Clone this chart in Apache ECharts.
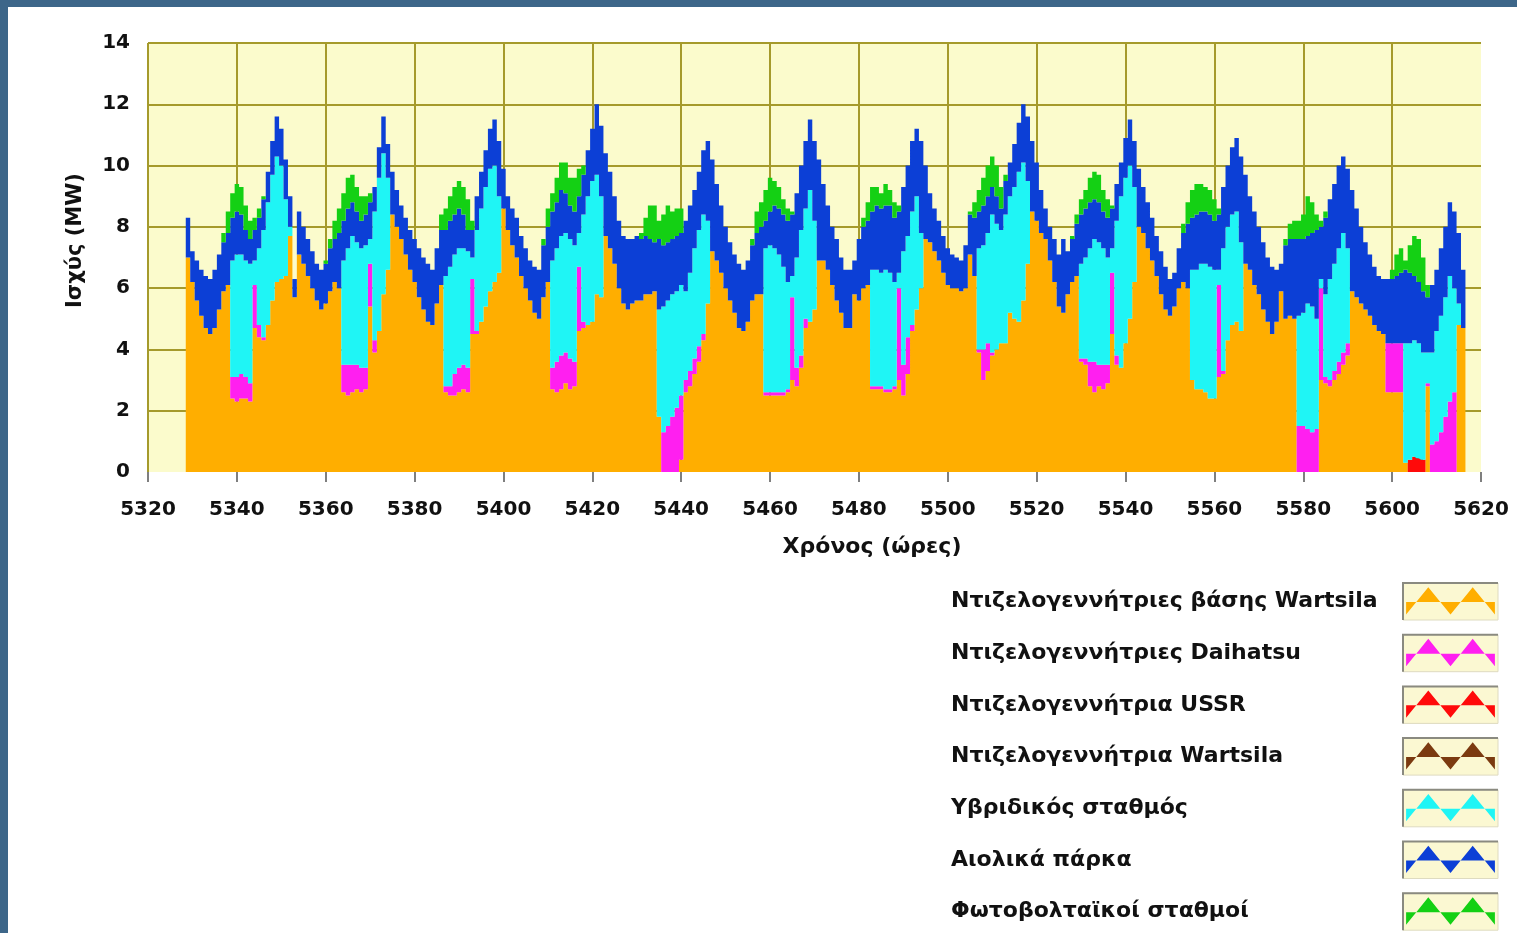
<!DOCTYPE html>
<html>
<head>
<meta charset="utf-8">
<script src="https://cdn.jsdelivr.net/npm/echarts@6/dist/echarts.min.js"></script>
<style>
  html, body { margin: 0; padding: 0; width: 1517px; height: 933px; overflow: hidden; background: #3d6689; }
  #chart { position: absolute; left: 8px; top: 7px; width: 1509px; height: 926px; background: #ffffff; }
</style>
</head>
<body>
<div id="chart"></div>
<script>
// Hourly dispatch of the island power system, hours 5329 .. 5616 (MW per unit group)
const firstHour = 5329;

const baseWartsila = [
  7.0, 6.2, 5.6, 5.1, 4.7, 4.5, 4.7, 5.3, 5.9, 6.1,
  2.4, 2.3, 2.4, 2.4, 2.3, 4.7, 4.4, 4.3, 4.8, 5.6,
  6.2, 6.3, 6.4, 7.7, 5.7, 7.1, 6.8, 6.4, 6.0, 5.6,
  5.3, 5.5, 5.9, 6.2, 6.0, 2.6, 2.5, 2.6, 2.7, 2.6,
  2.7, 5.4, 3.9, 4.6, 5.8, 6.6, 8.4, 8.0, 7.6, 7.1,
  6.6, 6.2, 5.7, 5.3, 4.9, 4.8, 5.5, 6.1, 2.6, 2.5,
  2.5, 2.6, 2.7, 2.6, 4.5, 4.5, 4.9, 5.4, 5.9, 6.2,
  6.5, 8.6, 7.9, 7.4, 7.0, 6.4, 6.0, 5.6, 5.2, 5.0,
  5.7, 6.2, 2.7, 2.6, 2.7, 2.9, 2.7, 2.8, 4.6, 4.7,
  4.8, 4.9, 5.8, 5.7, 7.7, 7.3, 6.8, 6.0, 5.5, 5.3,
  5.5, 5.6, 5.6, 5.8, 5.8, 5.9, 1.8, 0, 0, 0,
  0, 0.4, 2.6, 2.8, 3.2, 3.6, 4.3, 5.5, 7.2, 6.9,
  6.5, 6.0, 5.6, 5.2, 4.7, 4.6, 4.9, 5.6, 5.8, 5.8,
  2.5, 2.5, 2.5, 2.5, 2.5, 2.6, 3.0, 2.8, 3.4, 4.7,
  4.9, 5.3, 6.9, 6.9, 6.6, 6.1, 5.6, 5.2, 4.7, 4.7,
  5.8, 5.6, 6.0, 6.1, 2.7, 2.7, 2.7, 2.6, 2.6, 2.7,
  3.0, 2.5, 3.2, 4.6, 5.3, 6.0, 7.6, 7.5, 7.2, 6.9,
  6.5, 6.1, 6.0, 6.0, 5.9, 6.0, 7.1, 6.4, 3.9, 3.0,
  3.3, 3.8, 4.0, 4.2, 4.2, 5.2, 5.0, 4.9, 5.6, 6.8,
  8.5, 8.2, 7.8, 7.6, 6.9, 6.2, 5.4, 5.2, 5.8, 6.2,
  6.4, 3.6, 3.5, 2.8, 2.6, 2.8, 2.7, 2.9, 4.5, 3.5,
  3.4, 4.2, 5.0, 6.2, 8.0, 7.8, 7.3, 6.9, 6.4, 5.8,
  5.3, 5.1, 5.4, 6.0, 6.2, 6.0, 3.0, 2.7, 2.7, 2.6,
  2.4, 2.4, 3.1, 3.2, 4.3, 4.8, 4.9, 4.6, 6.8, 6.6,
  6.1, 5.8, 5.3, 4.9, 4.5, 4.9, 5.9, 5.0, 5.1, 5.0,
  0, 0, 0, 0, 0, 3.0, 2.9, 2.8, 3.0, 3.2,
  3.5, 3.8, 5.9, 5.7, 5.5, 5.3, 5.1, 4.8, 4.6, 4.5,
  2.6, 2.6, 2.6, 2.6, 0.3, 0, 0, 0, 0, 2.8,
  0, 0, 0, 0, 0, 0, 4.8, 4.7
];

const daihatsu = [
  0, 0, 0, 0, 0, 0, 0, 0, 0, 0,
  0.7, 0.8, 0.8, 0.7, 0.6, 1.4, 0.4, 0.1, 0, 0,
  0, 0, 0, 0, 0, 0, 0, 0, 0, 0,
  0, 0, 0, 0, 0, 0.9, 1.0, 0.9, 0.8, 0.8,
  0.7, 1.4, 0.4, 0, 0, 0, 0, 0, 0, 0,
  0, 0, 0, 0, 0, 0, 0, 0, 0.2, 0.3,
  0.7, 0.8, 0.8, 0.8, 1.8, 0.1, 0, 0, 0, 0,
  0, 0, 0, 0, 0, 0, 0, 0, 0, 0,
  0, 0, 0.7, 1.0, 1.1, 1.0, 1.0, 0.8, 2.1, 0.2,
  0, 0, 0, 0, 0, 0, 0, 0, 0, 0,
  0, 0, 0, 0, 0, 0, 0, 1.3, 1.5, 1.8,
  2.1, 2.1, 0.4, 0.5, 0.5, 0.5, 0.2, 0, 0, 0,
  0, 0, 0, 0, 0, 0, 0, 0, 0, 0,
  0.1, 0.1, 0.1, 0.1, 0.1, 0.1, 2.7, 0.6, 0.4, 0.3,
  0, 0, 0, 0, 0, 0, 0, 0, 0, 0,
  0, 0, 0, 0, 0.1, 0.1, 0.1, 0.1, 0.1, 0.1,
  3.0, 1.0, 1.2, 0.2, 0, 0, 0, 0, 0, 0,
  0, 0, 0, 0, 0, 0, 0, 0, 0.1, 1.0,
  0.9, 0.1, 0, 0, 0, 0, 0, 0, 0, 0,
  0, 0, 0, 0, 0, 0, 0, 0, 0, 0,
  0, 0.1, 0.2, 0.8, 1.0, 0.7, 0.8, 0.6, 2.0, 0.3,
  0, 0, 0, 0, 0, 0, 0, 0, 0, 0,
  0, 0, 0, 0, 0, 0, 0, 0, 0, 0,
  0, 0, 3.0, 0.1, 0, 0, 0, 0, 0, 0,
  0, 0, 0, 0, 0, 0, 0, 0, 0, 0,
  1.5, 1.5, 1.4, 1.3, 1.4, 3.0, 0.2, 0.2, 0.3, 0.4,
  0.4, 0.4, 0, 0, 0, 0, 0, 0, 0, 0,
  1.6, 1.6, 1.6, 1.6, 0, 0, 0, 0, 0, 0.1,
  0.9, 1.0, 1.3, 1.8, 2.3, 2.6, 0, 0
];

// USSR unit only runs for a few hours; every other hour it is off
const ussrHours = [5604, 5605, 5606, 5607];
const ussrValues = [0.4, 0.5, 0.45, 0.4];

// Single Wartsila unit: no output in this window
const wartsilaUnitHours = [];
const wartsilaUnitValues = [];

const hybrid = [
  0, 0, 0, 0, 0, 0, 0, 0, 0, 0,
  3.8, 4.0, 3.9, 3.8, 3.9, 0.8, 2.5, 3.5, 4.0, 4.1,
  4.1, 3.7, 2.5, 0.3, 0, 0, 0, 0, 0, 0,
  0, 0, 0, 0, 0, 3.4, 3.8, 4.2, 4.0, 3.9,
  4.0, 0.8, 4.2, 5.0, 4.6, 3.0, 0, 0, 0, 0,
  0, 0, 0, 0, 0, 0, 0, 0, 3.6, 3.9,
  3.9, 3.9, 3.8, 3.8, 0.7, 3.3, 3.7, 3.9, 4.0, 3.8,
  2.5, 0, 0, 0, 0, 0, 0, 0, 0, 0,
  0, 0, 3.5, 3.7, 3.9, 3.9, 3.9, 3.8, 1.1, 3.5,
  4.2, 4.6, 3.9, 3.3, 0, 0, 0, 0, 0, 0,
  0, 0, 0, 0, 0, 0, 3.5, 4.1, 4.1, 4.0,
  3.8, 3.6, 2.9, 3.2, 3.6, 3.8, 3.9, 2.7, 0, 0,
  0, 0, 0, 0, 0, 0, 0, 0, 0, 0,
  4.7, 4.8, 4.7, 4.5, 4.1, 3.5, 0.7, 3.6, 4.1, 3.6,
  4.3, 2.9, 0, 0, 0, 0, 0, 0, 0, 0,
  0, 0, 0, 0, 3.8, 3.8, 3.7, 3.9, 3.8, 3.4,
  0.5, 3.7, 3.3, 3.7, 3.7, 1.8, 0, 0, 0, 0,
  0, 0, 0, 0, 0, 0, 0, 0, 3.3, 3.4,
  3.6, 4.5, 4.1, 3.7, 4.2, 3.8, 4.3, 4.9, 4.5, 2.7,
  0, 0, 0, 0, 0, 0, 0, 0, 0, 0,
  0, 3.1, 3.3, 3.7, 4.0, 4.0, 3.8, 3.5, 0.8, 4.4,
  5.6, 5.4, 5.0, 3.1, 0, 0, 0, 0, 0, 0,
  0, 0, 0, 0, 0, 0, 3.6, 3.9, 4.1, 4.2,
  4.3, 4.2, 0.5, 4.0, 3.7, 3.6, 3.6, 2.9, 0, 0,
  0, 0, 0, 0, 0, 0, 0, 0, 0, 0,
  3.6, 3.7, 4.1, 4.1, 3.6, 0.3, 2.7, 3.3, 3.5, 3.7,
  3.9, 3.1, 0, 0, 0, 0, 0, 0, 0, 0,
  0, 0, 0, 0, 3.9, 3.8, 3.8, 3.75, 3.5, 1.0,
  3.0, 3.6, 3.8, 3.9, 4.1, 3.4, 0.7, 0
];

const windParks = [
  1.3, 1.0, 1.3, 1.5, 1.7, 1.8, 1.9, 1.8, 1.6, 1.7,
  1.4, 1.4, 1.3, 1.0, 0.8, 1.0, 1.0, 1.0, 1.0, 1.1,
  1.3, 1.2, 1.3, 1.0, 0.6, 1.4, 1.2, 1.2, 1.2, 1.2,
  1.3, 1.3, 1.4, 1.4, 1.8, 1.3, 1.3, 1.1, 1.0, 0.9,
  1.0, 1.2, 0.8, 1.0, 1.2, 1.1, 1.4, 1.2, 1.1, 1.2,
  1.3, 1.4, 1.6, 1.7, 1.9, 1.8, 1.8, 1.8, 1.5, 1.5,
  1.3, 1.3, 1.1, 0.7, 0.9, 1.1, 1.2, 1.2, 1.3, 1.5,
  1.8, 1.3, 1.1, 1.2, 1.3, 1.3, 1.3, 1.3, 1.5, 1.6,
  1.7, 1.8, 1.6, 1.5, 1.5, 1.3, 1.1, 1.1, 1.2, 1.3,
  1.5, 1.7, 2.3, 2.3, 2.7, 2.5, 2.2, 2.2, 2.2, 2.3,
  2.1, 2.1, 2.0, 1.9, 1.8, 1.6, 2.3, 2.0, 1.9, 1.8,
  1.8, 1.7, 2.3, 2.2, 1.9, 1.9, 2.1, 2.6, 3.0, 2.5,
  2.2, 2.0, 1.9, 1.9, 2.1, 2.0, 2.0, 1.8, 2.0, 2.2,
  0.9, 1.1, 1.4, 1.5, 1.7, 2.0, 2.0, 2.1, 2.1, 2.2,
  2.3, 2.6, 3.3, 2.5, 2.1, 1.9, 2.0, 1.8, 1.9, 1.9,
  1.1, 2.0, 2.0, 2.1, 1.9, 2.1, 2.1, 2.1, 2.2, 2.1,
  2.0, 2.1, 2.3, 2.3, 2.2, 3.0, 2.4, 1.6, 1.4, 1.3,
  1.2, 1.2, 1.1, 1.0, 1.0, 1.4, 1.3, 1.9, 1.2, 1.3,
  1.2, 0.9, 0.9, 0.7, 1.1, 1.1, 1.4, 1.6, 1.9, 2.1,
  2.3, 1.9, 1.4, 1.0, 1.1, 1.4, 1.7, 2.4, 1.4, 1.4,
  1.7, 1.6, 1.6, 1.5, 1.3, 1.3, 1.2, 1.3, 1.3, 1.2,
  1.1, 1.3, 1.5, 1.5, 1.9, 1.5, 1.5, 1.4, 1.3, 1.4,
  1.4, 1.2, 1.1, 1.3, 1.6, 2.1, 1.7, 1.8, 1.7, 1.7,
  1.7, 1.6, 1.8, 2.0, 2.0, 2.2, 2.4, 2.8, 2.9, 2.4,
  2.4, 2.2, 2.2, 2.1, 2.2, 1.7, 0.9, 2.4, 2.5, 2.6,
  2.5, 2.4, 2.2, 2.4, 2.9, 1.7, 2.5, 2.6, 2.6, 2.7,
  2.5, 2.6, 3.3, 2.9, 2.5, 2.2, 2.0, 1.9, 1.8, 1.8,
  2.1, 2.1, 2.2, 2.3, 2.4, 2.3, 2.1, 2.0, 2.0, 1.8,
  2.2, 2.0, 2.2, 2.3, 2.4, 2.5, 2.3, 1.9
];

const photovoltaic = [
  0, 0, 0, 0, 0, 0, 0, 0, 0.3, 0.7,
  0.8, 0.9, 0.9, 0.8, 0.6, 0.4, 0.3, 0.1, 0, 0,
  0, 0, 0, 0, 0, 0, 0, 0, 0, 0,
  0, 0.1, 0.3, 0.6, 0.8, 0.9, 1.0, 0.9, 0.8, 0.8,
  0.6, 0.3, 0, 0, 0, 0, 0, 0, 0, 0,
  0, 0, 0, 0, 0, 0, 0, 0.5, 0.7, 0.8,
  0.9, 0.9, 0.9, 1.0, 0.3, 0, 0, 0, 0, 0,
  0, 0, 0, 0, 0, 0, 0, 0, 0, 0,
  0.2, 0.6, 0.6, 0.8, 0.9, 1.0, 0.9, 1.1, 0.9, 0.3,
  0, 0, 0, 0, 0, 0, 0, 0, 0, 0,
  0, 0, 0.2, 0.6, 1.1, 1.2, 0.6, 1.0, 1.2, 0.9,
  0.9, 0.8, 0, 0, 0, 0, 0, 0, 0, 0,
  0, 0, 0, 0, 0, 0, 0, 0.2, 0.7, 0.8,
  1.0, 1.1, 0.8, 0.7, 0.5, 0.4, 0.1, 0, 0, 0,
  0, 0, 0, 0, 0, 0, 0, 0, 0, 0,
  0, 0, 0.3, 0.6, 0.8, 0.6, 0.5, 0.7, 0.5, 0.5,
  0.2, 0, 0, 0, 0, 0, 0, 0, 0, 0,
  0, 0, 0, 0, 0, 0, 0.1, 0.5, 0.7, 0.9,
  1.0, 1.0, 1.0, 0.7, 0.2, 0, 0, 0, 0, 0,
  0, 0, 0, 0, 0, 0, 0, 0, 0, 0.1,
  0.3, 0.5, 0.6, 0.8, 0.9, 0.9, 0.7, 0.6, 0.1, 0,
  0, 0, 0, 0, 0, 0, 0, 0, 0, 0,
  0, 0, 0, 0, 0.3, 0.7, 0.9, 1.0, 0.9, 0.8,
  0.8, 0.7, 0.2, 0, 0, 0, 0, 0, 0, 0,
  0, 0, 0, 0, 0, 0, 0, 0.2, 0.5, 0.6,
  0.6, 0.8, 1.3, 1.0, 0.5, 0.2, 0.2, 0, 0, 0,
  0, 0, 0, 0, 0, 0, 0, 0, 0, 0,
  0, 0.3, 0.7, 0.8, 0.3, 0.9, 1.3, 1.4, 1.1, 0.4,
  0, 0, 0, 0, 0, 0, 0, 0
];

const seriesNames = [
  'Ντιζελογεννήτριες βάσης Wartsila',
  'Ντιζελογεννήτριες Daihatsu',
  'Ντιζελογεννήτρια USSR',
  'Ντιζελογεννήτρια Wartsila',
  'Υβριδικός σταθμός',
  'Αιολικά πάρκα',
  'Φωτοβολταϊκοί σταθμοί'
];
const seriesColors = ['#ffae00', '#ff1ff0', '#ff0a0a', '#7b3a10', '#1ff5f5', '#0c3fd6', '#14d014'];

// hour axis 5320 .. 5620, labelled every 20 h
const xRange = { min: 5320, max: 5620, step: 20 };
const yTicks = { min: 0, max: 14, step: 2 };

const hourAxis = [];
for (let h = xRange.min; h <= xRange.max; h++) hourAxis.push(String(h));

const sampleCount = baseWartsila.length;

// place a sample list on the hour axis (no value outside the simulated window)
function onAxis(list) {
  return hourAxis.map(label => {
    const i = Number(label) - firstHour;
    return i >= 0 && i < sampleCount ? list[i] : null;
  });
}

// expand a sparse (hour -> MW) listing onto the simulated hours
function sparse(hList, vList) {
  const out = [];
  for (let i = 0; i < sampleCount; i++) {
    const k = hList.indexOf(firstHour + i);
    out.push(k >= 0 ? vList[k] : 0);
  }
  return out;
}

const values = [
  baseWartsila,
  daihatsu,
  sparse(ussrHours, ussrValues),
  sparse(wartsilaUnitHours, wartsilaUnitValues),
  hybrid,
  windParks,
  photovoltaic
];

// zig-zag legend glyph: teeth filled between the zig-zag and its centre line
// (tiny corner marks fix the glyph's bounding box)
const zigzag = 'path://M0 0L0.1 0L0 0.1Z M96 40L95.9 40L96 39.9Z ' +
  'M0 20.5L0 34L11 20.5L24 4.5L37 20.5L48 34L59 20.5L72 4.5L85 20.5L96 34L96 20.5Z';

const fontFamily = '"DejaVu Sans", Verdana, sans-serif';
const gridColor = '#a59a2b';
const every20 = (i) => i % xRange.step === 0;

const legendTextLeft = 943, legendTop = 576, legendRow = 51.7;
const boxX = 1395, boxW = 95, boxH = 37;

// framed swatch panels behind the legend glyphs
const legendBoxes = [];
seriesNames.forEach((_, i) => {
  const y = legendTop + i * legendRow;
  legendBoxes.push({
    type: 'rect', z: 0,
    shape: { x: boxX, y: y, width: boxW, height: boxH },
    style: { fill: '#fbf8d2', stroke: '#dedbc0', lineWidth: 1 }
  });
  legendBoxes.push({
    type: 'polyline', z: 1,
    shape: { points: [[boxX, y + boxH], [boxX, y], [boxX + boxW, y]] },
    style: { stroke: '#8a8a80', lineWidth: 2, fill: null }
  });
});

const legendCommon = {
  orient: 'vertical',
  top: legendTop,
  padding: 0,
  itemHeight: boxH,
  itemGap: legendRow - boxH,
  selectedMode: false,
  z: 5,
  data: seriesNames
};

const chart = echarts.init(document.getElementById('chart'), null, { renderer: 'canvas' });

chart.setOption({
  animation: false,
  backgroundColor: '#ffffff',
  textStyle: { fontFamily: fontFamily },
  grid: {
    left: 140, top: 36, width: 1333, height: 429,
    show: true, backgroundColor: '#fbfbcc', borderWidth: 0
  },
  xAxis: {
    type: 'category',
    data: hourAxis,
    boundaryGap: false,
    offset: 6,
    name: 'Χρόνος (ώρες)',
    nameLocation: 'middle',
    nameGap: 58,
    nameTextStyle: { fontFamily: fontFamily, fontWeight: 'bold', fontSize: 22, color: '#111', padding: [0, 0, 0, 115] },
    axisLine: { show: false },
    axisTick: { show: true, length: 10, interval: every20, lineStyle: { color: '#555', width: 1.5 } },
    axisLabel: { margin: 22, interval: every20, fontFamily: fontFamily, fontWeight: 'bold', fontSize: 20, color: '#111' },
    splitLine: { show: true, interval: every20, showMinLine: true, showMaxLine: false, lineStyle: { color: gridColor, width: 2 } }
  },
  yAxis: {
    type: 'value',
    min: yTicks.min, max: yTicks.max, interval: yTicks.step,
    name: 'Ισχύς (MW)',
    nameLocation: 'middle',
    nameRotate: 90,
    nameGap: 62,
    nameTextStyle: { fontFamily: fontFamily, fontWeight: 'bold', fontSize: 21, color: '#111', padding: [0, 0, 0, 34] },
    axisLine: { show: false },
    axisTick: { show: false },
    axisLabel: { margin: 18, fontFamily: fontFamily, fontWeight: 'bold', fontSize: 20, color: '#111' },
    splitLine: { show: true, showMinLine: false, showMaxLine: true, lineStyle: { color: gridColor, width: 2 } }
  },
  legend: [
    // names, left aligned
    Object.assign({}, legendCommon, {
      id: 'names',
      left: legendTextLeft - 5,
      itemWidth: 0,
      icon: 'rect',
      itemStyle: { color: 'rgba(0,0,0,0)', borderWidth: 0 },
      textStyle: { fontFamily: fontFamily, fontWeight: 'bold', fontSize: 22, color: '#111' }
    }),
    // zig-zag swatches in their framed panels
    Object.assign({}, legendCommon, {
      id: 'swatches',
      left: boxX,
      itemWidth: boxW,
      icon: zigzag,
      formatter: () => '',
      textStyle: { fontSize: 1 }
    })
  ],
  graphic: { elements: legendBoxes },
  series: seriesNames.map((name, k) => ({
    name: name,
    type: 'line',
    stack: 'dispatch',
    step: 'middle',
    showSymbol: false,
    symbol: 'none',
    silent: true,
    color: seriesColors[k],
    itemStyle: { color: seriesColors[k] },
    lineStyle: { width: 0, color: seriesColors[k] },
    areaStyle: { color: seriesColors[k], opacity: 1 },
    data: onAxis(values[k])
  }))
});
</script>
</body>
</html>
